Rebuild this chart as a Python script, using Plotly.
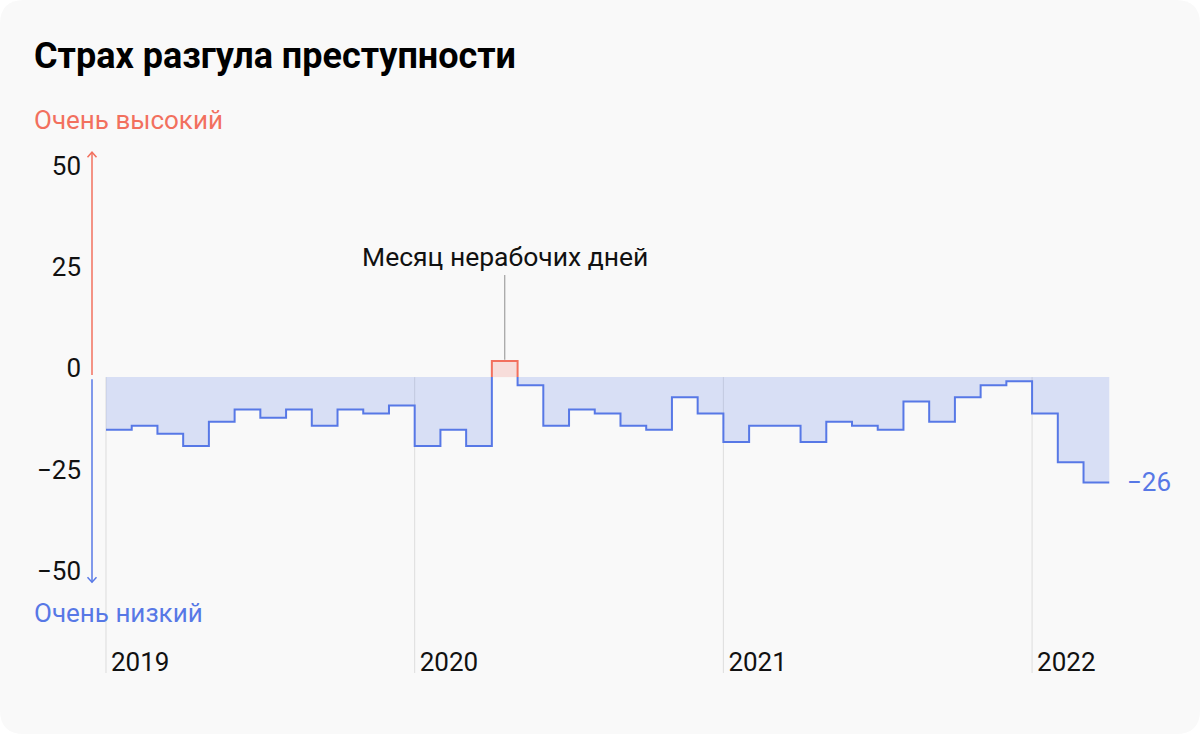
import plotly.graph_objects as go

# ---- data ----
years = ["2019", "2020", "2021", "2022"]
values_2019 = [-13, -12, -14, -17, -11, -8, -10, -8, -12, -8, -9, -7]
values_2020 = [-17, -13, -17, 4, -2, -12, -8, -9, -12, -13, -5, -9]
values_2021 = [-16, -12, -12, -16, -11, -12, -13, -6, -11, -5, -2, -1]
values_2022 = [-9, -21, -26]
y_ticks = [-50, -25, 0, 25, 50]
y_tick_text = ["−50", "−25", "0", "25", "50"]
annot_month = (2020, 4)
annot_text = "Месяц нерабочих дней"
title = "Страх разгула преступности"
high_label = "Очень высокий"
low_label = "Очень низкий"

values = values_2019 + values_2020 + values_2021 + values_2022
n = len(values)
year_ticks = [12 * i for i in range(len(years))]

# ---- style ----
W, H = 1200, 734
L, R, T, B = 92, 20, 142, 52
PPU = 531 / 131
YMAX = 58
YMIN = YMAX - (H - T - B) / PPU
GRID_BOTTOM = YMAX - (673 - T) / PPU
XMIN, XMAX = -0.544, 41.75
BLUE = "#5778e6"
BLUE_FILL = "rgba(87,120,230,0.2)"
RED = "#f2705e"
RED_FILL = "rgba(242,112,94,0.2)"
CARD = "#f9f9f9"
FONT = "Roboto"
pw, ph = W - L - R, H - T - B
ppu = ph / (YMAX - YMIN)


def px_to_paper(px, py):
    return (px - L) / pw, (H - B - py) / ph


def sign_runs(vals):
    runs, start = [], 0
    for i in range(1, len(vals) + 1):
        if i == len(vals) or (vals[i] >= 0) != (vals[start] >= 0):
            runs.append((start, i - 1))
            start = i
    return runs


fig = go.Figure()

for a, b in sign_runs(values):
    xs, ys = [], []
    if a > 0:
        xs.append(a); ys.append(0)
    for i in range(a, b + 1):
        xs.append(i); ys.append(values[i])
    xs.append(b + 1); ys.append(values[b])
    if b < n - 1:
        xs.append(b + 1); ys.append(0)
    pos = values[a] >= 0
    fig.add_trace(go.Scatter(
        x=xs, y=ys, mode="lines", line=dict(shape="hv", width=2, color=RED if pos else BLUE),
        fill="tozeroy", fillcolor=RED_FILL if pos else BLUE_FILL,
        hoverinfo="skip", showlegend=False))

shapes = []
# card background with rounded corners
r = 24
x0, y0 = px_to_paper(0, 0)
x1, y1 = px_to_paper(W, H)
rx, ry = r / pw, r / ph
path = (f"M{x0+rx},{y0} L{x1-rx},{y0} Q{x1},{y0} {x1},{y0-ry} "
        f"L{x1},{y1+ry} Q{x1},{y1} {x1-rx},{y1} "
        f"L{x0+rx},{y1} Q{x0},{y1} {x0},{y1+ry} "
        f"L{x0},{y0-ry} Q{x0},{y0} {x0+rx},{y0} Z")
shapes.append(dict(type="path", path=path, xref="paper", yref="paper",
                   fillcolor=CARD, line=dict(width=0), layer="below"))
# year gridlines from zero downwards
for xv in year_ticks:
    shapes.append(dict(type="line", xref="x", yref="y", x0=xv, x1=xv, y0=0, y1=GRID_BOTTOM,
                       line=dict(color="#dddddd", width=1), layer="below"))
# custom y axis: red up, blue down
top_v, bot_v = 55.5, -50.6
gap = 0.5
shapes.append(dict(type="line", xref="paper", yref="y", x0=0, x1=0, y0=gap, y1=top_v,
                   line=dict(color=RED, width=1.5)))
shapes.append(dict(type="line", xref="paper", yref="y", x0=0, x1=0, y0=-gap, y1=bot_v,
                   line=dict(color=BLUE, width=1.5)))
dx = 4.5 / pw
dy = 5.0 / ppu
shapes.append(dict(type="path", xref="paper", yref="y",
                   path=f"M{-dx},{top_v-dy} L0,{top_v} L{dx},{top_v-dy}",
                   line=dict(color=RED, width=1.5)))
shapes.append(dict(type="path", xref="paper", yref="y",
                   path=f"M{-dx},{bot_v+dy} L0,{bot_v} L{dx},{bot_v+dy}",
                   line=dict(color=BLUE, width=1.5)))
# annotation leader line
ai = (annot_month[0] - 2019) * 12 + annot_month[1] - 1
shapes.append(dict(type="line", xref="x", yref="y", x0=ai + 0.5, x1=ai + 0.5,
                   y0=values[ai] + 0.3, y1=25.2, line=dict(color="#a0a0a0", width=1.2)))

annotations = []
hx, hy = px_to_paper(35, 120)
annotations.append(dict(text=high_label, xref="paper", yref="paper", x=hx, y=hy,
                        xanchor="left", yanchor="middle", xshift=-3, showarrow=False,
                        font=dict(family=FONT, size=26, color=RED)))
lx, ly = px_to_paper(35, 613)
annotations.append(dict(text=low_label, xref="paper", yref="paper", x=lx, y=ly,
                        xanchor="left", yanchor="middle", xshift=-3, showarrow=False,
                        font=dict(family=FONT, size=26, color=BLUE)))
annotations.append(dict(text=annot_text, xref="x", yref="y", x=ai + 0.5, y=25.2,
                        xanchor="center", yanchor="bottom", yshift=1, showarrow=False,
                        font=dict(family=FONT, size=26.5, color="#111111")))
annotations.append(dict(text=f"−{abs(values[-1])}" if values[-1] < 0 else str(values[-1]),
                        xref="x", yref="y", x=n, y=values[-1], xanchor="left",
                        yanchor="middle", xshift=16, showarrow=False,
                        font=dict(family=FONT, size=26, color=BLUE)))

fig.update_layout(
    width=W, height=H,
    margin=dict(l=L, r=R, t=T, b=B),
    paper_bgcolor="white",
    plot_bgcolor="rgba(0,0,0,0)",
    title=dict(text=f"<b>{title}</b>", x=34 / W, y=1 - 55 / H, xanchor="left",
               yanchor="middle", font=dict(family=FONT, size=36, color="#000000")),
    shapes=shapes,
    annotations=annotations,
    xaxis=dict(range=[XMIN, XMAX], tickvals=year_ticks, ticktext=years,
               showgrid=False, zeroline=False, showline=False, ticks="",
               ticklabelposition="inside right", ticklabelshift=5,
               tickfont=dict(family=FONT, size=26, color="#111111"), fixedrange=True),
    yaxis=dict(range=[YMIN, YMAX], tickvals=y_ticks, ticktext=y_tick_text,
               showgrid=False, zeroline=False, showline=False, ticks="",
               ticklabelshift=-9, ticklabelstandoff=10,
               tickfont=dict(family=FONT, size=26, color="#111111"), fixedrange=True),
    showlegend=False,
)

fig.write_html("out.html", config={"displayModeBar": False},
               post_script="document.body.style.margin='0';")
